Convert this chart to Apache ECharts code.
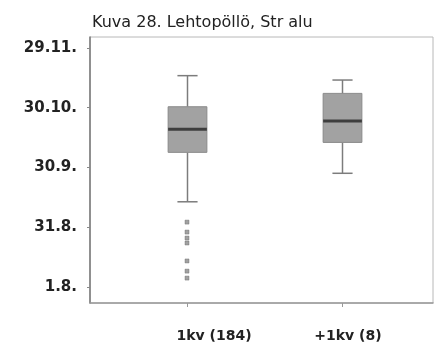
<!DOCTYPE html>
<html>
<head>
<meta charset="utf-8">
<script src="https://cdn.jsdelivr.net/npm/echarts@6/dist/echarts.min.js"></script>
<style>
  html, body { margin: 0; padding: 0; background: #ffffff; }
  #chart { width: 436px; height: 347px; }
</style>
</head>
<body>
<div id="chart"></div>
<script>
// Groups on the x axis
const categories = ['1kv (184)', '+1kv (8)'];
// Box statistics, in days counted from 1 August
const whiskerLow  = [42.8, 57.1];
const quartile1   = [67.6, 72.6];
const median      = [79.2, 83.3];
const quartile3   = [90.5, 97.2];
const whiskerHigh = [106.1, 103.9];
// Outlying observations of the first group (days from 1 August)
const outliers1kv = [32.6, 27.6, 24.6, 22.1, 13.1, 8.0, 4.5];
// Date ticks on the y axis
const tickDays   = [0, 30, 60, 90, 120];
const tickLabels = ['1.8.', '31.8.', '30.9.', '30.10.', '29.11.'];
// Label shift (px) so each group name sits where it is printed
const labelShift = [54, 12];

const yMin = -8.0;
const yMax = 125.5;

const chart = echarts.init(document.getElementById('chart'), null, { renderer: 'canvas' });

const boxData = categories.map((c, i) =>
  [i, whiskerLow[i], quartile1[i], median[i], quartile3[i], whiskerHigh[i]]);

function renderBox(params, api) {
  const x = api.value(0);
  const lo = api.coord([x, api.value(1)]);
  const b1 = api.coord([x, api.value(2)]);
  const md = api.coord([x, api.value(3)]);
  const b3 = api.coord([x, api.value(4)]);
  const hi = api.coord([x, api.value(5)]);
  const w = api.size([1, 0])[0] * 0.25;
  const cap = w * 0.52;
  const cx = Math.round(lo[0]) + 0.5;
  const whisker = { stroke: '#7c7c7c', lineWidth: 1.5 };
  return {
    type: 'group',
    children: [
      { type: 'line', shape: { x1: cx, y1: hi[1], x2: cx, y2: b3[1] }, style: whisker },
      { type: 'line', shape: { x1: cx, y1: b1[1], x2: cx, y2: lo[1] }, style: whisker },
      { type: 'line', shape: { x1: cx - cap / 2, y1: hi[1], x2: cx + cap / 2, y2: hi[1] }, style: whisker },
      { type: 'line', shape: { x1: cx - cap / 2, y1: lo[1], x2: cx + cap / 2, y2: lo[1] }, style: whisker },
      { type: 'rect', shape: { x: cx - w / 2, y: b3[1], width: w, height: b1[1] - b3[1] },
        style: { fill: '#a2a2a2', stroke: '#8a8a8a', lineWidth: 1 } },
      { type: 'line', shape: { x1: cx - w / 2, y1: md[1], x2: cx + w / 2, y2: md[1] },
        style: { stroke: '#3e3e3e', lineWidth: 3 } }
    ]
  };
}

const option = {
  backgroundColor: '#ffffff',
  animation: false,
  title: {
    text: 'Kuva 28. Lehtopöllö, Str alu',
    left: 92,
    top: 15,
    padding: 0,
    textStyle: { fontFamily: 'DejaVu Sans', fontSize: 16, fontWeight: 'normal', color: '#222222' }
  },
  grid: [
    // plot frame with the date axis
    { left: 90, top: 37, width: 343, height: 266, show: true,
      borderColor: '#b8b8b8', borderWidth: 1, backgroundColor: '#ffffff' },
    // category band for the two groups
    { left: 109.5, top: 37, width: 310, height: 266 }
  ],
  xAxis: [
    { gridIndex: 0, type: 'value', min: 0, max: 1, show: true, position: 'bottom',
      axisLine: { show: true, onZero: false, lineStyle: { color: '#999999', width: 1.5 } },
      axisTick: { show: false }, axisLabel: { show: false }, splitLine: { show: false } },
    { gridIndex: 1, type: 'category', data: categories, boundaryGap: true, position: 'bottom',
      axisLine: { show: false, onZero: false },
      axisTick: { show: true, alignWithLabel: true, length: 4, lineStyle: { color: '#999999' } },
      axisLabel: {
        margin: 26,
        formatter: (v, i) => '{s' + i + '|' + v + '}',
        rich: {
          s0: { padding: [0, 0, 0, labelShift[0]], fontFamily: 'DejaVu Sans', fontSize: 14, fontWeight: 'bold', color: '#222222' },
          s1: { padding: [0, 0, 0, labelShift[1]], fontFamily: 'DejaVu Sans', fontSize: 14, fontWeight: 'bold', color: '#222222' }
        }
      },
      splitLine: { show: false } }
  ],
  yAxis: [
    { gridIndex: 0, type: 'value', min: yMin, max: yMax,
      axisLine: { show: true, onZero: false, lineStyle: { color: '#777777', width: 1.5 } },
      axisTick: { show: true, length: 3, customValues: tickDays, lineStyle: { color: '#888888' } },
      axisLabel: {
        customValues: tickDays,
        margin: 13,
        fontFamily: 'DejaVu Sans', fontSize: 15, fontWeight: 'bold', color: '#222222',
        formatter: v => {
          const i = tickDays.indexOf(Math.round(v));
          return i >= 0 ? tickLabels[i] : '';
        }
      },
      splitLine: { show: false } },
    { gridIndex: 1, type: 'value', min: yMin, max: yMax, show: false }
  ],
  series: [
    {
      type: 'custom',
      xAxisIndex: 1, yAxisIndex: 1,
      renderItem: renderBox,
      encode: { x: 0, y: [1, 2, 3, 4, 5] },
      data: boxData,
      z: 3
    },
    {
      type: 'scatter',
      xAxisIndex: 1, yAxisIndex: 1,
      symbol: 'rect',
      symbolSize: 4,
      itemStyle: { color: '#8a8a8a', borderColor: '#6a6a6a', borderWidth: 0.5 },
      data: outliers1kv.map(v => [0, v]),
      z: 4
    }
  ]
};

chart.setOption(option);
</script>
</body>
</html>
